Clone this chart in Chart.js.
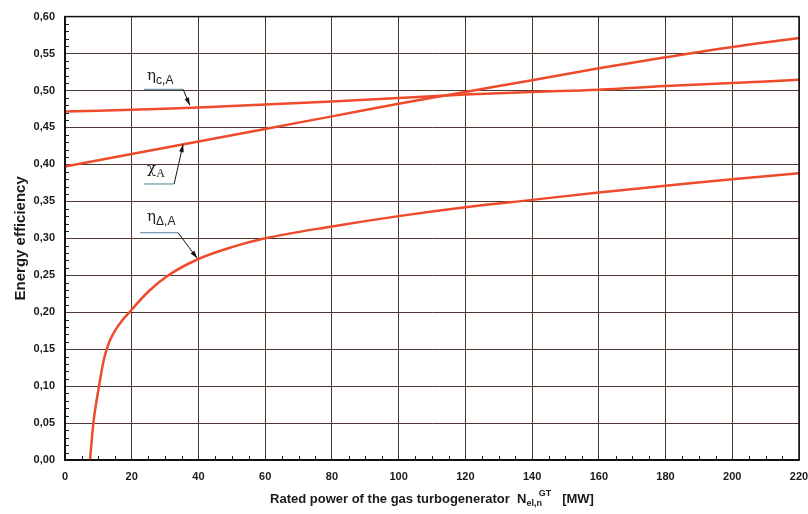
<!DOCTYPE html>
<html>
<head>
<meta charset="utf-8">
<script src="https://cdn.jsdelivr.net/npm/chart.js@4.4.1/dist/chart.umd.min.js"></script>
<style>
  html, body { margin: 0; padding: 0; background: #fff; }
  canvas { display: block; }
</style>
</head>
<body>
<canvas id="chart" width="808" height="514"></canvas>
<script>
// Data
const powerMW = [0, 20, 40, 60, 80, 100, 120, 140, 160, 180, 200, 220];
const etaC = [0.4715, 0.474, 0.477, 0.481, 0.485, 0.490, 0.4945, 0.498, 0.501, 0.506, 0.510, 0.5145];
const chiA = [0.397, 0.414, 0.431, 0.448, 0.465, 0.482, 0.498, 0.514, 0.530, 0.545, 0.559, 0.571];
const deltaPowerMW = [7.5, 8.5, 10.2, 11.5, 12.5, 13.5, 15, 17, 19.5, 25, 31, 40, 50, 60, 80, 100, 120, 140, 160, 180, 200, 220];
const etaDelta = [0, 0.05, 0.10, 0.133, 0.15, 0.162, 0.175, 0.188, 0.201, 0.228, 0.25, 0.272, 0.288, 0.30, 0.316, 0.330, 0.342, 0.352, 0.362, 0.371, 0.380, 0.388];

const xTitle = ["Rated power of the gas turbogenerator  N", "el,n", "GT", "   [MW]"];
const yTitle = "Energy efficiency";

// Curve labels with leader lines (data coordinates)
const callouts = [
  { sym: "η", sub: "c,A", serifSub: false, at: [24.6, 0.5137], path: [[23.7, 0.5016], [35.4, 0.5016], [37.4, 0.480]] },
  { sym: "χ", sub: "A", serifSub: true, at: [24.6, 0.3883], path: [[23.7, 0.3735], [32.7, 0.3735], [35.4, 0.427]] },
  { sym: "η", sub: "Δ,A", serifSub: false, at: [24.6, 0.3236], path: [[22.5, 0.3075], [33.9, 0.3075], [39.6, 0.273]] }
];

const lineColor = "#ee4a2c";
const gridColor = "#4e3832";

const toPoints = (xs, ys) => xs.map((x, i) => ({ x, y: ys[i] }));

const decorPlugin = {
  id: "decor",
  afterDraw(chart) {
    const { ctx, chartArea: a, scales: { x, y } } = chart;
    ctx.save();

    // minor ticks, pointing into the plot
    ctx.strokeStyle = "#222";
    ctx.lineWidth = 1;
    ctx.beginPath();
    for (let v = 5; v < 220; v += 5) {
      if (v % 20 === 0) continue;
      const px = Math.round(x.getPixelForValue(v)) + 0.5;
      ctx.moveTo(px, a.bottom);
      ctx.lineTo(px, a.bottom - 4);
    }
    for (let i = 1; i < 60; i++) {
      if (i % 5 === 0) continue;
      const py = Math.round(y.getPixelForValue(i / 100)) + 0.5;
      ctx.moveTo(a.left, py);
      ctx.lineTo(a.left + 4, py);
    }
    ctx.stroke();

    // frame
    ctx.strokeStyle = "#111";
    ctx.lineWidth = 1.5;
    ctx.strokeRect(a.left, a.top, a.right - a.left, a.bottom - a.top);

    // callouts
    callouts.forEach(c => {
      const pts = c.path.map(p => [x.getPixelForValue(p[0]), y.getPixelForValue(p[1])]);
      ctx.strokeStyle = "#4f7f93";
      ctx.lineWidth = 1;
      ctx.beginPath();
      ctx.moveTo(pts[0][0], pts[0][1]);
      ctx.lineTo(pts[1][0], pts[1][1]);
      ctx.stroke();

      ctx.strokeStyle = "#111";
      ctx.beginPath();
      ctx.moveTo(pts[1][0], pts[1][1]);
      ctx.lineTo(pts[2][0], pts[2][1]);
      ctx.stroke();
      const ang = Math.atan2(pts[2][1] - pts[1][1], pts[2][0] - pts[1][0]);
      ctx.fillStyle = "#111";
      ctx.beginPath();
      ctx.moveTo(pts[2][0], pts[2][1]);
      ctx.lineTo(pts[2][0] - 8 * Math.cos(ang - 0.3), pts[2][1] - 8 * Math.sin(ang - 0.3));
      ctx.lineTo(pts[2][0] - 8 * Math.cos(ang + 0.3), pts[2][1] - 8 * Math.sin(ang + 0.3));
      ctx.closePath();
      ctx.fill();

      const tx = x.getPixelForValue(c.at[0]);
      const ty = y.getPixelForValue(c.at[1]);
      ctx.fillStyle = "#222";
      ctx.textBaseline = "alphabetic";
      ctx.textAlign = "left";
      ctx.font = "15px 'DejaVu Serif'";
      ctx.fillText(c.sym, tx, ty);
      const w = ctx.measureText(c.sym).width;
      ctx.font = c.serifSub ? "12px 'Liberation Serif'" : "12px 'Liberation Sans'";
      ctx.fillText(c.sub, tx + w, ty + 4);
    });

    // x axis title with sub/superscript
    const parts = [
      { t: xTitle[0], font: "bold 13px 'Liberation Sans'", dy: 0 },
      { t: xTitle[1], font: "bold 9px 'Liberation Sans'", dy: 3 },
      { t: xTitle[2], font: "bold 9px 'Liberation Sans'", dy: -7 },
      { t: xTitle[3], font: "bold 13px 'Liberation Sans'", dy: 0 }
    ];
    let total = 0;
    parts.forEach(p => { ctx.font = p.font; p.w = ctx.measureText(p.t).width; total += p.w; });
    total -= parts[1].w * 0.2;
    let cx = (a.left + a.right) / 2 - total / 2;
    const baseY = 503;
    ctx.fillStyle = "#1a1a1a";
    parts.forEach((p, i) => {
      ctx.font = p.font;
      ctx.fillText(p.t, cx, baseY + p.dy);
      cx += p.w;
      if (i === 1) cx -= p.w * 0.2;
    });
    ctx.restore();
  }
};

new Chart(document.getElementById("chart"), {
  type: "line",
  data: {
    datasets: [
      { label: "ηc,A", data: toPoints(powerMW, etaC), tension: 0.4 },
      { label: "χA", data: toPoints(powerMW, chiA), tension: 0.4 },
      { label: "ηΔ,A", data: toPoints(deltaPowerMW, etaDelta), cubicInterpolationMode: "monotone" }
    ].map(d => Object.assign(d, {
      borderColor: lineColor,
      borderWidth: 2.5,
      pointRadius: 0,
      fill: false
    }))
  },
  options: {
    responsive: false,
    animation: false,
    layout: { padding: { top: 15, right: 0, left: 0, bottom: 0 } },
    plugins: { legend: { display: false }, tooltip: { enabled: false } },
    scales: {
      x: {
        type: "linear",
        min: 0, max: 220,
        afterFit(scale) { scale.height = 54; scale.paddingRight = 9; },
        ticks: { stepSize: 20, padding: 10, color: "#1a1a1a", font: { family: "'Liberation Sans'", size: 11, weight: "bold" } },
        grid: { color: gridColor, lineWidth: 1, drawTicks: false },
        border: { color: "#111", width: 1.5 }
      },
      y: {
        min: 0, max: 0.6,
        afterFit(scale) { scale.width = 65; },
        ticks: {
          stepSize: 0.05, padding: 10, color: "#1a1a1a",
          font: { family: "'Liberation Sans'", size: 11, weight: "bold" },
          callback: v => v.toFixed(2).replace(".", ",")
        },
        grid: { color: gridColor, lineWidth: 1, drawTicks: false },
        border: { color: "#111", width: 1.5 },
        title: {
          display: true, text: yTitle, color: "#1a1a1a",
          font: { family: "'Liberation Sans'", size: 15, weight: "bold" },
          padding: { top: 12, bottom: 0 }
        }
      }
    }
  },
  plugins: [decorPlugin]
});
</script>
</body>
</html>
